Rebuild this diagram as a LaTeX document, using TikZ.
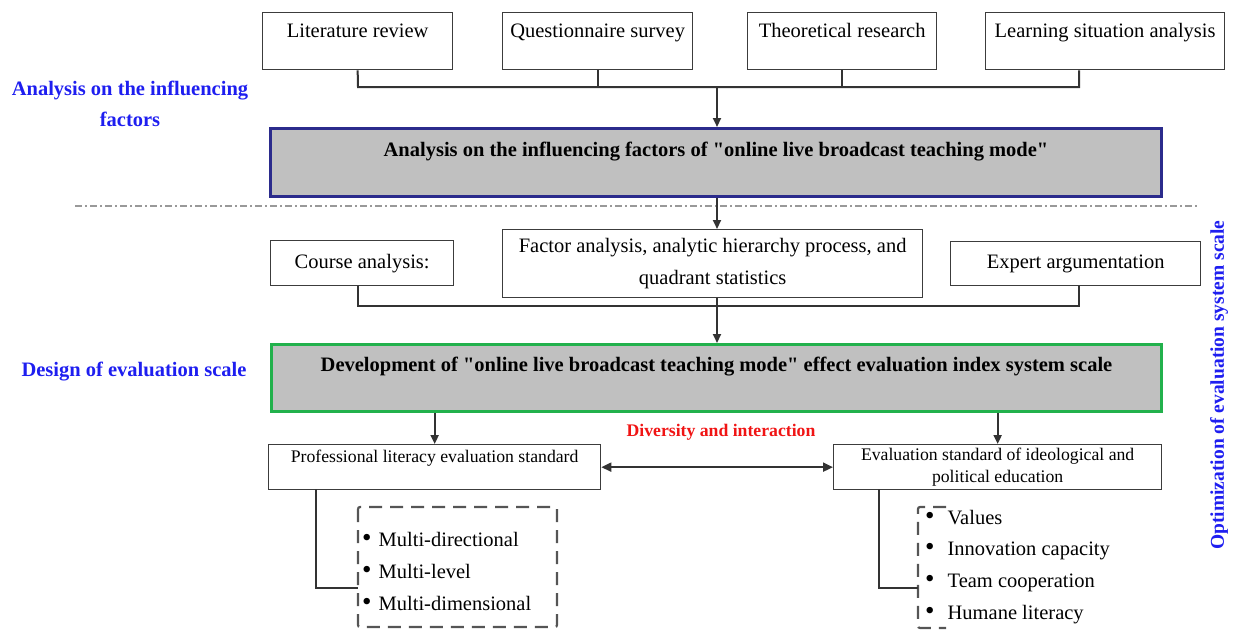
\documentclass[tikz,border=0pt]{standalone}
\usepackage{fontspec}
\setmainfont{Liberation Serif}[Ligatures=TeXOff]
\usetikzlibrary{arrows.meta}
\definecolor{boxc}{HTML}{3C3C3C}
\definecolor{linec}{HTML}{333333}
\definecolor{grayfill}{HTML}{C0C0C0}
\definecolor{blueb}{HTML}{2B2B8C}
\definecolor{greenb}{HTML}{22B14C}
\definecolor{labblue}{HTML}{1E1EF0}
\definecolor{labred}{HTML}{F01414}
\definecolor{dashc}{HTML}{555555}
\newcommand{\fz}[2]{\fontsize{#1}{#2}\selectfont}
\newcommand{\bul}{{\fontsize{27}{24}\selectfont •}}
\begin{document}
\begin{tikzpicture}[x=1pt,y=-1pt,
  box/.style={draw=boxc, line width=1.3pt, fill=white, inner sep=0pt, anchor=north west},
  bigbox/.style={line width=3pt, fill=grayfill, inner sep=0pt, anchor=north west, font=\fz{20.5}{24}\bfseries},
  conn/.style={draw=linec, line width=2pt},
  arr/.style={conn, -{Triangle[length=9pt,width=8pt]}},
  lab/.style={text=labblue, font=\fz{20.5}{31}\bfseries, align=center},
  item/.style={anchor=west, inner sep=0pt, font=\fz{20.5}{24}},
  dbox/.style={draw=dashc, line width=2.2pt, dash pattern=on 13pt off 8pt, rounded corners=2pt}
]
\useasboundingbox (0,0) rectangle (1233,632);

% top row
\node[box, minimum width=190pt, text height=25pt, text depth=32pt, font=\fz{20.5}{24}] (lit) at (262,12) {Literature review};
\node[box, minimum width=190pt, text height=25pt, text depth=32pt, font=\fz{20.5}{24}] (quest) at (502,12) {Questionnaire survey};
\node[box, minimum width=189pt, text height=25pt, text depth=32pt, font=\fz{20.5}{24}] (theor) at (747,12) {Theoretical research};
\node[box, minimum width=239pt, text height=25pt, text depth=32pt, font=\fz{20.5}{24}] (learn) at (985,12) {Learning situation analysis};

\coordinate (busL) at (358,87);
\coordinate (busR) at (1079,87);
\coordinate (busM) at (717,87);
\draw[conn] (lit.south) -- (busL) -- (busR) -- (busR |- learn.south);
\draw[conn] (quest.south) -- (quest.south |- busL);
\draw[conn] (theor.south) -- (theor.south |- busL);

\node[bigbox, draw=blueb, minimum width=891pt, text height=28pt, text depth=40pt] (box1) at (269,127) {Analysis on the influencing factors of "online live broadcast teaching mode"};
\draw[arr] (busM) -- (busM |- box1.north);

\node[lab] (labA) at (130,104) {Analysis on the influencing\\factors};

% separator
\coordinate (sepL) at (75,206);
\coordinate (sepR) at (1198,206);
\draw[draw=gray!80, line width=1.5pt, dash pattern=on 7pt off 3pt on 2pt off 3pt] (sepL) -- (sepR);

% second row
\node[box, minimum width=183pt, minimum height=45pt, font=\fz{20.5}{24}] (course) at (270,240) {Course analysis:};
\node[box, minimum width=420pt, minimum height=68pt, align=center, font=\fz{20.5}{32}] (factor) at (502,229) {Factor analysis, analytic hierarchy process, and\\quadrant statistics};
\node[box, minimum width=250pt, minimum height=44pt, font=\fz{20.5}{24}] (expert) at (950,241) {Expert argumentation};

\draw[arr] (busM |- box1.south) -- (busM |- factor.north);

\coordinate (bus2L) at (358,306);
\coordinate (bus2R) at (1079,306);
\draw[conn] (bus2L |- course.south) -- (bus2L) -- (bus2R) -- (bus2R |- expert.south);

\node[bigbox, draw=greenb, minimum width=890pt, text height=27pt, text depth=40pt] (box2) at (270,343) {Development of "online live broadcast teaching mode" effect evaluation index system scale};
\draw[arr] (busM |- factor.south) -- (busM |- box2.north);

\node[lab] (labD) at (134,372) {Design of evaluation scale};
\node[lab, rotate=90, font=\fz{19.5}{24}\bfseries] (labO) at (1219,385) {Optimization of evaluation system scale};

% third row
\node[box, minimum width=332pt, text height=18pt, text depth=27pt, font=\fz{17.7}{22}] (prof) at (268,444) {Professional literacy evaluation standard};
\node[box, minimum width=328pt, minimum height=45pt, align=center, font=\fz{17.7}{22}] (eval) at (833,444) {Evaluation standard of ideological and\\political education};

\draw[arr] (box2.south -| prof.north) -- (prof.north);
\draw[arr] (box2.south -| eval.north) -- (eval.north);
\draw[conn, {Triangle[length=10pt,width=9pt]}-{Triangle[length=10pt,width=9pt]}] (prof.east) -- (eval.west);

\node[text=labred, font=\fz{17.7}{22}\bfseries] (div) at (721,432) {Diversity and interaction};

% left list
\draw[dbox] (358,507) rectangle (557,627);
\coordinate (pl) at (316,489);
\coordinate (plj) at (358,588);
\draw[conn] (pl) |- (plj);
\node[item] (m1) at (362,539) {\bul\hspace{7pt}Multi-directional};
\node[item] (m2) at (362,571) {\bul\hspace{7pt}Multi-level};
\node[item] (m3) at (362,603) {\bul\hspace{7pt}Multi-dimensional};

% right list
\draw[dbox] (946,507) -- (918,507) -- (918,628) -- (946,628);
\coordinate (pr) at (879,489);
\coordinate (prj) at (918,588);
\draw[conn] (pr) |- (prj);
\node[item] (v1) at (925,518) {\bul\hspace{13pt}Values};
\node[item] (v2) at (925,551) {\bul\hspace{13pt}Innovation capacity};
\node[item] (v3) at (925,583) {\bul\hspace{13pt}Team cooperation};
\node[item] (v4) at (925,615) {\bul\hspace{13pt}Humane literacy};
\end{tikzpicture}
\end{document}
